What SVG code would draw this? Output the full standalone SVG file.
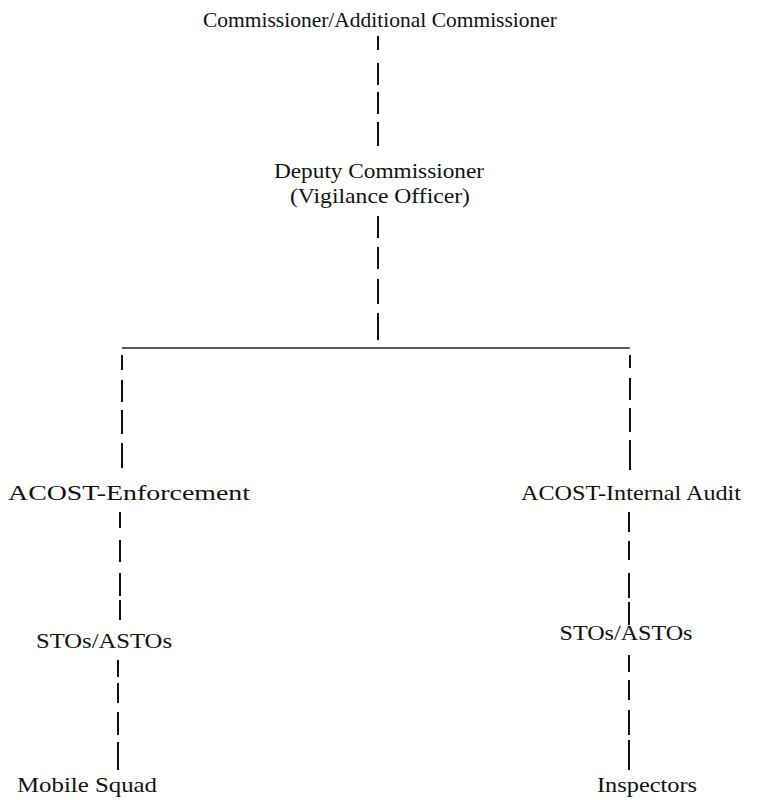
<svg xmlns="http://www.w3.org/2000/svg" width="760" height="800" viewBox="0 0 760 800">
  <style>
    .label { font-family: "Liberation Serif", "Times New Roman", serif; font-size: 22px; fill: #111; text-anchor: middle; }
    .title { font-size: 21px; }
    .dash { stroke: #111; stroke-width: 2; fill: none; stroke-linecap: butt; }
    .bar { stroke: #222; stroke-width: 1.4; fill: none; }
  </style>
  <rect width="760" height="800" fill="#fff"/>

  <!-- reporting lines -->
  <g id="connectors">
    <!-- Commissioner to Deputy Commissioner -->
    <path class="dash" d="M378 36V50 M378 63V85 M378 92V114 M378 122V146"/>
    <!-- Deputy Commissioner down to the branch bar -->
    <path class="dash" d="M378 216V238 M378 247V269 M378 279V304 M378 313V340"/>
    <!-- branch bar -->
    <path class="bar" d="M122 348H630"/>
    <!-- left branch -->
    <path class="dash" d="M122 355V370 M122 380V402 M122 410V434 M122 443V468"/>
    <path class="dash" d="M120 512V528 M120 540V562 M120 573V596 M120 600V620"/>
    <path class="dash" d="M118 660V677 M118 683V703 M118 712V735 M118 742V770"/>
    <!-- right branch -->
    <path class="dash" d="M630 355V368 M630 378V400 M630 408V432 M630 440V470"/>
    <path class="dash" d="M629 512V532 M629 541V560 M629 573V598 M629 602V625"/>
    <path class="dash" d="M629 655V672 M629 680V700 M629 710V735 M629 740V770"/>
  </g>

  <g id="commissioner">
    <text class="label title" x="380" y="27" textLength="354" lengthAdjust="spacingAndGlyphs">Commissioner/Additional Commissioner</text>
  </g>
  <g id="deputy-commissioner">
    <text class="label" x="379" y="178" textLength="210" lengthAdjust="spacingAndGlyphs">Deputy Commissioner</text>
    <text class="label" x="380" y="203" textLength="180" lengthAdjust="spacingAndGlyphs">(Vigilance Officer)</text>
  </g>
  <g id="acost-enforcement">
    <text class="label" x="129" y="500" textLength="242" lengthAdjust="spacingAndGlyphs">ACOST-Enforcement</text>
  </g>
  <g id="acost-internal-audit">
    <text class="label" x="631" y="500" textLength="220" lengthAdjust="spacingAndGlyphs">ACOST-Internal Audit</text>
  </g>
  <g id="stos-left">
    <text class="label" x="104" y="648" textLength="136" lengthAdjust="spacingAndGlyphs">STOs/ASTOs</text>
  </g>
  <g id="stos-right">
    <text class="label" x="626" y="640" textLength="133" lengthAdjust="spacingAndGlyphs">STOs/ASTOs</text>
  </g>
  <g id="mobile-squad">
    <text class="label" x="87" y="792" textLength="140" lengthAdjust="spacingAndGlyphs">Mobile Squad</text>
  </g>
  <g id="inspectors">
    <text class="label" x="647" y="792" textLength="100" lengthAdjust="spacingAndGlyphs">Inspectors</text>
  </g>
</svg>
